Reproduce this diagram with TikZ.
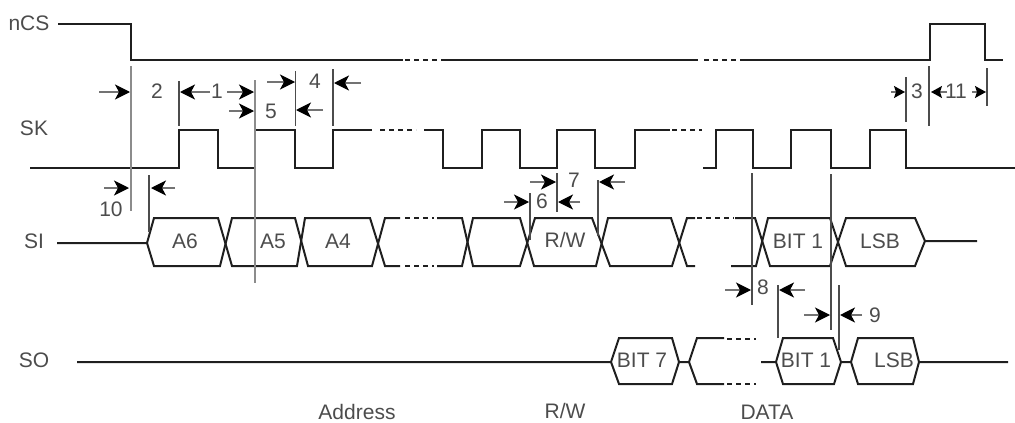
\documentclass[tikz,border=0pt]{standalone}
\usepackage{fontspec}
\setmainfont{Liberation Sans}
\usetikzlibrary{arrows.meta}
\definecolor{txt}{gray}{0.3}
\definecolor{wv}{gray}{0.12}
\tikzset{
  wave/.style={draw=wv,line width=2pt,line join=miter},
  dots/.style={draw=wv,line width=2pt,dash pattern=on 5pt off 4pt},
  tick/.style={draw=black!70,line width=1.3pt},
  tickd/.style={draw=black!45,line width=2pt},
  dim/.style={draw=black!55,line width=1.3pt,-{Stealth[length=15pt,width=15pt,inset=4pt,black]}},
  dims/.style={draw=black!55,line width=1.3pt,-{Stealth[length=11pt,width=12pt,inset=2pt,black]}},
  lbl/.style={text=txt,font=\fontsize{21}{23}\selectfont,inner sep=0pt}
}
\begin{document}
\begin{tikzpicture}[x=1pt,y=-1pt]
\useasboundingbox (0,0) rectangle (1015,423);
% nCS
\draw[wave] (58,24) -- (131,24) -- (131,60) -- (403,60);
\draw[dots] (405,60) -- (443,60);
\draw[wave] (443,60) -- (698,60);
\draw[dots] (704,60) -- (738,60);
\draw[wave] (740,60) -- (930,60) -- (930,24) -- (985,24) -- (985,60) -- (1003,60);
% SK
\draw[wave] (30,168) -- (179,168) -- (179,130) -- (218,130) -- (218,168) -- (255,168) -- (255,130) -- (295,130) -- (295,168) -- (333,168) -- (333,130) -- (372,130);
\draw[dots] (380,130) -- (416,130);
\draw[wave] (424,130) -- (443,130) -- (443,168) -- (482,168) -- (482,130) -- (520,130) -- (520,168) -- (557,168) -- (557,130) -- (595,130) -- (595,168) -- (635,168) -- (635,130) -- (670,130);
\draw[dots] (672,130) -- (702,130);
\draw[wave] (703,168) -- (716,168) -- (716,130) -- (753,130) -- (753,168) -- (791,168) -- (791,130) -- (831,130) -- (831,168) -- (870,168) -- (870,130) -- (906,130) -- (906,168) -- (1015,168);
% SI
\draw[wave] (57,243) -- (147,243) -- (154,218) -- (218,218) -- (232,266) -- (297,266) -- (305,218) -- (370,218) -- (385,266) -- (400,266);
\draw[wave] (147,243) -- (154,266) -- (220,266) -- (232,218) -- (295,218) -- (308,266) -- (372,266) -- (385,218) -- (400,218);
\draw[dots] (405,218) -- (434,218);
\draw[dots] (405,266) -- (434,266);
\draw[wave] (437,218) -- (462,218) -- (473,266) -- (520,266) -- (535,218) -- (592,218) -- (610,266) -- (672,266) -- (687,218) -- (695,218);
\draw[wave] (437,266) -- (462,266) -- (473,218) -- (520,218) -- (534,266) -- (596,266) -- (608,218) -- (671,218) -- (687,266) -- (695,266);
\draw[dots] (697,218) -- (734,218);
\draw[wave] (735,218) -- (755,218) -- (770,266) -- (830,266) -- (846,218) -- (915,218) -- (925,241) -- (977,241);
\draw[wave] (731,266) -- (756,266) -- (768,218) -- (830,218) -- (846,266) -- (915,266) -- (925,241);
% SO
\draw[wave] (77,362) -- (611,362) -- (619,338) -- (672,338) -- (679,362) -- (689,362) -- (697,338) -- (724,338);
\draw[wave] (611,362) -- (619,384) -- (672,384) -- (679,362);
\draw[wave] (689,362) -- (697,384) -- (724,384);
\draw[dots] (727,339) -- (756,339);
\draw[dots] (727,384) -- (756,384);
\draw[wave] (761,362) -- (776,362) -- (783,338) -- (833,338) -- (841,362) -- (851,362) -- (858,338) -- (913,338) -- (919,362) -- (1008,362);
\draw[wave] (776,362) -- (783,384) -- (834,384) -- (841,362);
\draw[wave] (851,362) -- (858,384) -- (913,384) -- (919,362);
% ticks
\draw[tickd] (131,66) -- (131,211);
\draw[tick] (179,81) -- (179,126);
\draw[tickd] (255,80) -- (255,283);
\draw[tick] (295.5,71) -- (295.5,126);
\draw[tick] (333,69) -- (333,126);
\draw[tick] (149,175) -- (149,232);
\draw[tick] (906,77) -- (906,122);
\draw[tick] (929,66) -- (929,126);
\draw[tick] (987,68) -- (987,106);
\draw[tick] (530,193) -- (530,240);
\draw[tick] (557,173) -- (557,212);
\draw[tick] (598,180) -- (598,236);
\draw[tick] (752,173) -- (752,305);
\draw[tick] (831,174) -- (831,330);
\draw[tick] (778,285) -- (778,338);
\draw[tick] (839,285) -- (839,350);
% dimension arrows
\draw[dim] (99,92) -- (130,92);
\draw[dim] (210,92) -- (180,92);
\draw[dim] (227,92) -- (254,92);
\draw[dim] (229,111) -- (254,111);
\draw[dim] (267,82) -- (295,82);
\draw[dim] (361,83) -- (334,83);
\draw[dim] (323,110) -- (296,110);
\draw[dim] (104,188) -- (129,188);
\draw[dim] (175,188) -- (151,188);
\draw[dims] (891,92) -- (905,92);
\draw[dims] (947,92) -- (931,92);
\draw[dims] (972,92) -- (986,92);
\draw[dim] (504,202) -- (529,202);
\draw[dim] (580,202) -- (558,202);
\draw[dim] (530,182) -- (556,182);
\draw[dim] (625,182) -- (599,182);
\draw[dim] (725,290) -- (751,290);
\draw[dim] (805,290) -- (779,290);
\draw[dim] (804,315) -- (830,315);
\draw[dim] (862,315) -- (840,315);
% labels
\node[lbl] (lnCS) at (29,23) {nCS};
\node[lbl] (lSK) at (34,128) {SK};
\node[lbl] (lSI) at (34,241) {SI};
\node[lbl] (lSO) at (34,360) {SO};
\node[lbl] (t2) at (157,91) {2};
\node[lbl] (t1) at (217,91) {1};
\node[lbl] (t5) at (271,111) {5};
\node[lbl] (t4) at (315,81) {4};
\node[lbl] (t10) at (111,209) {10};
\node[lbl] (t3) at (917,91) {3};
\node[lbl] (t11) at (956,91) {11};
\node[lbl] (t6) at (542,201) {6};
\node[lbl] (t7) at (574,180) {7};
\node[lbl] (t8) at (763,287) {8};
\node[lbl] (t9) at (875,315) {9};
\node[lbl] (a6) at (185,241) {A6};
\node[lbl] (a5) at (273,241) {A5};
\node[lbl] (a4) at (338,241) {A4};
\node[lbl] (rw) at (565,240) {R/W};
\node[lbl] (b1) at (798,241) {BIT 1};
\node[lbl] (l1) at (880,241) {LSB};
\node[lbl] (b7) at (642,360) {BIT 7};
\node[lbl] (b2) at (806,360) {BIT 1};
\node[lbl] (l2) at (894,360) {LSB};
\node[lbl] (addr) at (357,412) {Address};
\node[lbl] (rw2) at (565,411) {R/W};
\node[lbl] (data) at (767,412) {DATA};
\end{tikzpicture}
\end{document}
